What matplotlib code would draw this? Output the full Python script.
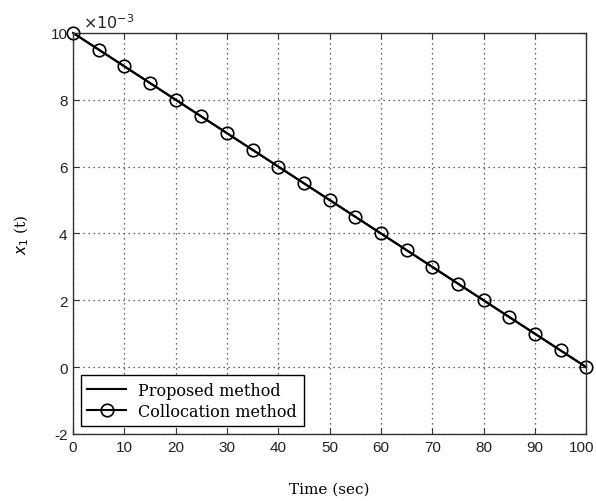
import matplotlib.pyplot as plt
import matplotlib.transforms as mtransforms
import numpy as np

# time samples (sec) and state x1(t)
t_line = [0, 100]
x1_line = [0.010, 0.0]

t_colloc = [0, 5, 10, 15, 20, 25, 30, 35, 40, 45, 50,
            55, 60, 65, 70, 75, 80, 85, 90, 95, 100]
x1_colloc = [0.0100, 0.0095, 0.0090, 0.0085, 0.0080, 0.0075, 0.0070,
             0.0065, 0.0060, 0.0055, 0.0050, 0.0045, 0.0040, 0.0035,
             0.0030, 0.0025, 0.0020, 0.0015, 0.0010, 0.0005, 0.0000]

x_ticks = [0, 10, 20, 30, 40, 50, 60, 70, 80, 90, 100]
y_ticks = [-0.002, 0, 0.002, 0.004, 0.006, 0.008, 0.010]
y_labels = ['-2', '0', '2', '4', '6', '8', '10']

fig = plt.figure(figsize=(5.96, 5.02), dpi=100)
ax = fig.add_axes([0.1225, 0.1335, 0.861, 0.799])

ax.plot(t_line, x1_line, 'k-', linewidth=1.5, label='Proposed method')
ax.plot(t_colloc, x1_colloc, 'k-', marker='o', markersize=9,
        markerfacecolor='none', markeredgewidth=1.2, linewidth=1.5,
        label='Collocation method', clip_on=False)

ax.set_xlim(0, 100)
ax.set_ylim(-0.002, 0.010)
ax.set_xticks(x_ticks)
ax.set_yticks(y_ticks)
ax.set_yticklabels(y_labels)
ax.tick_params(direction='in', labelsize=11, length=4, top=True, right=True,
               colors='#333333', labelcolor='#222222', pad=4)
for lab in ax.get_xticklabels() + ax.get_yticklabels():
    lab.set_fontfamily('Liberation Sans')
# nudge the last x label left a little so it stays inside the figure
last = ax.get_xticklabels()[-1]
last.set_transform(last.get_transform() +
                   mtransforms.ScaledTranslation(-3 / 72, 0, fig.dpi_scale_trans))
ax.grid(True, linestyle=(0, (1, 3)), color='#333333', linewidth=0.9)
for s in ax.spines.values():
    s.set_linewidth(1.0)
    s.set_color('#333333')

ax.text(0.02, 1.005, r'$\times10^{-3}$', transform=ax.transAxes,
        fontsize=11.5, va='bottom', ha='left', color='#222222')

ax.set_xlabel('Time (sec)', fontfamily='DejaVu Serif', fontsize=11, labelpad=20)
ax.set_ylabel(r'$x_1$ (t)', fontfamily='DejaVu Serif', fontsize=11, labelpad=14)

leg = ax.legend(loc='lower left', fancybox=False,
                edgecolor='k', framealpha=1, borderaxespad=0.5,
                prop={'family': 'DejaVu Serif', 'size': 11.5},
                handlelength=2.4, labelspacing=0.25)
leg.get_frame().set_linewidth(1.0)

fig.savefig('out.png', dpi=100)
